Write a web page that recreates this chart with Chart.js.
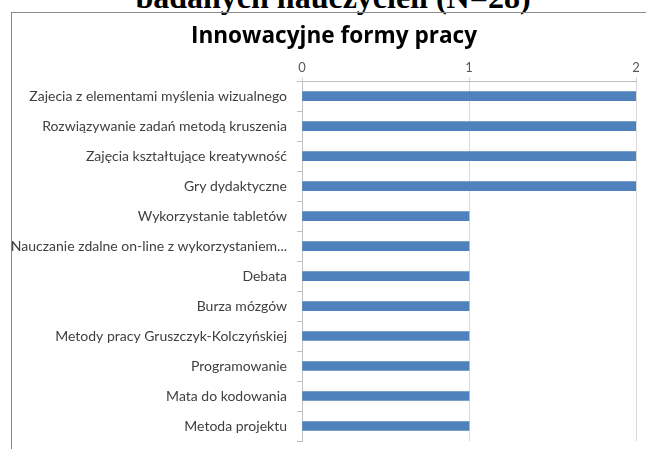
<!DOCTYPE html>
<html><head><meta charset="utf-8">
<script src="https://cdn.jsdelivr.net/npm/chart.js@4"></script>
<style>
html,body{margin:0;padding:0;background:#fff;width:646px;height:449px;overflow:hidden;}
#head{position:absolute;left:-10px;top:-19px;width:686px;text-align:center;font:bold 32px/32px "Liberation Serif","Times New Roman",serif;color:#000;white-space:nowrap;}
#frame{position:absolute;left:11px;top:12px;width:700px;height:500px;border-left:1px solid #8a8a8a;border-top:1px solid #8a8a8a;}
#wrap{position:absolute;left:0;top:0;width:646px;height:449px;}
</style></head>
<body>
<div id="head">badanych nauczycieli (N=28)</div>
<div id="frame"></div>
<div id="wrap"><canvas id="c" width="646" height="449"></canvas></div>
<script>
const categories = [
  "Zajecia z elementami myślenia wizualnego",
  "Rozwiązywanie zadań metodą kruszenia",
  "Zajęcia kształtujące kreatywność",
  "Gry dydaktyczne",
  "Wykorzystanie tabletów",
  "Nauczanie zdalne on-line z wykorzystaniem...",
  "Debata",
  "Burza mózgów",
  "Metody pracy Gruszczyk-Kolczyńskiej",
  "Programowanie",
  "Mata do kodowania",
  "Metoda projektu"
];
const values = [2, 2, 2, 2, 1, 1, 1, 1, 1, 1, 1, 1];
const xTicks = [0, 1, 2];
const chartTitle = "Innowacyjne formy pracy";

const labelFont = {family: "Lato, 'Open Sans', sans-serif", size: 14};
const widenLabelArea = {
  id: 'widenLabelArea',
  afterLayout(chart) { chart.scales.y.left = 0; }
};
new Chart(document.getElementById('c'), {
  type: 'bar',
  data: {labels: categories, datasets: [{data: values, backgroundColor: '#4f81bd', borderWidth: 0, barThickness: 9}]},
  plugins: [widenLabelArea],
  options: {
    indexAxis: 'y',
    responsive: false,
    animation: false,
    layout: {padding: {left: 32, right: 10, top: 0, bottom: 0}},
    plugins: {
      legend: {display: false},
      tooltip: {enabled: false},
      title: {display: true, text: chartTitle, color: '#000', font: {family: "'Open Sans', Lato, sans-serif", size: 22.6, weight: 'bold', lineHeight: 1.2}, padding: {top: 23, bottom: 5}}
    },
    scales: {
      x: {
        position: 'top', min: 0, max: 2,
        afterBuildTicks: s => { s.ticks = xTicks.map(v => ({value: v})); },
        afterFit: s => { s.height = 26; },
        ticks: {color: '#595959', font: {family: "Lato, 'Open Sans', sans-serif", size: 13}, padding: 2, maxRotation: 0},
        grid: {color: '#d9d9d9', lineWidth: 1, tickLength: 4},
        border: {color: '#bfbfbf'}
      },
      y: {
        afterFit: s => { s.width = 270; s.paddingBottom = 8; s.paddingTop = 0; },
        ticks: {color: '#404040', font: labelFont, padding: 10, autoSkip: false},
        grid: {offset: true, drawOnChartArea: false, color: '#bfbfbf', tickLength: 5},
        border: {color: '#bfbfbf'}
      }
    }
  }
});
</script>
</body></html>
